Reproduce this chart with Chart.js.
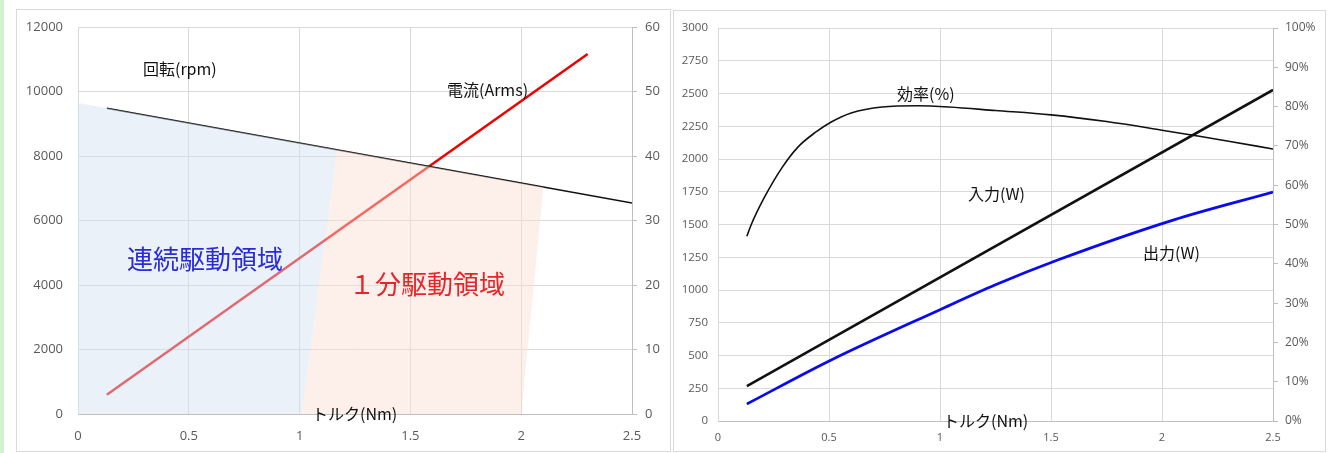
<!DOCTYPE html>
<html>
<head>
<meta charset="utf-8">
<script src="https://cdn.jsdelivr.net/npm/chart.js@4.4.0/dist/chart.umd.min.js"></script>
<style>
    body { margin: 0; background: #fff; width: 1330px; height: 453px; position: relative; overflow: hidden; font-family: 'Noto Sans CJK JP', sans-serif; }
    .stripe { position: absolute; left: 0; top: 0; width: 4px; height: 453px; background: #d3f3d0; }
    .frame { position: absolute; border: 1px solid #d9d9d9; box-sizing: border-box; }
    canvas { position: absolute; }
    .lbl { position: absolute; white-space: nowrap; transform: translateY(-50%); font-size: 16px; color: #111; line-height: 1; }
    .big { font-size: 26px; }
</style>
</head>
<body>
<div class="stripe"></div>
<div class="frame" style="left:16px;top:9px;width:655px;height:443px"></div>
<div class="frame" style="left:673px;top:10px;width:653px;height:442px"></div>
<canvas id="motorChart" width="652" height="441" style="left:17px;top:10px"></canvas>
<canvas id="powerChart" width="651" height="440" style="left:674px;top:11px"></canvas>

<div class="lbl" style="left:143px;top:68px">回転(rpm)</div>
<div class="lbl" style="left:447px;top:89px">電流(Arms)</div>
<div class="lbl big" style="left:127px;top:258px;color:#2a2ad8">連続駆動領域</div>
<div class="lbl big" style="left:349px;top:283px;color:#e8242a">１分駆動領域</div>
<div class="lbl" style="left:312px;top:413px">トルク(Nm)</div>

<div class="lbl" style="left:897px;top:93px">効率(%)</div>
<div class="lbl" style="left:968px;top:193px">入力(W)</div>
<div class="lbl" style="left:1143px;top:252px">出力(W)</div>
<div class="lbl" style="left:943px;top:420px">トルク(Nm)</div>

<script>
'use strict';

/* left chart: speed / current vs torque */
const rpmTorque = [0.13, 2.5];
const rpmValues = [9480, 6540];
const currentTorque = [0.13, 2.3];
const currentValues = [3.0, 55.8];
// operating regions (outline points, rpm axis)
const contTorque = [0, 1.17, 1.01, 0];
const contRpm = [9640, 8190, 0, 0];
const oneMinTorque = [1.01, 1.17, 2.1, 2.0];
const oneMinRpm = [0, 8190, 7030, 0];

/* right chart: efficiency / input / output vs torque */
const effTorque = [0.13, 0.15, 0.21, 0.29, 0.36, 0.44, 0.51, 0.6, 0.74, 0.9, 1.04, 1.25, 1.5, 1.75, 2.0, 2.13, 2.3, 2.5];
const effValues = [47, 50, 57, 64.6, 69.7, 73.5, 76.1, 78.4, 79.9, 80.2, 79.9, 79.0, 77.9, 76.2, 74.0, 72.8, 71.2, 69.2];
const inputTorque = [0.13, 2.5];
const inputValues = [267, 2527];
const outputTorque = [0.13, 0.51, 1.0, 1.25, 1.53, 2.05, 2.5];
const outputValues = [130, 466, 850, 1040, 1229, 1534, 1748];

const pts = (xs, ys) => xs.map((x, i) => ({ x: x, y: ys[i] }));

Chart.defaults.font.family = "'Open Sans', sans-serif";
Chart.defaults.color = '#595959';
Chart.defaults.animation = false;

const GRID = '#d9d9d9';
const AXIS = '#bfbfbf';

// fixed axis box sizes, no extra label padding
const fixWidth = (w) => (s) => { s.width = w; s.paddingTop = 0; s.paddingBottom = 0; };
const fixHeight = (h) => (s) => { s.height = h; };

function lineSet(data, color, width, yAxisID, extra) {
    return Object.assign({
        data: data,
        borderColor: color,
        borderWidth: width,
        pointRadius: 0,
        fill: false,
        yAxisID: yAxisID,
        order: 1,
    }, extra || {});
}

function regionSet(data, color) {
    return {
        data: data,
        backgroundColor: color,
        borderWidth: 0,
        pointRadius: 0,
        fill: 'shape',
        yAxisID: 'y',
        order: 0,
    };
}

new Chart(document.getElementById('motorChart'), {
    type: 'line',
    data: {
        datasets: [
            lineSet(pts(rpmTorque, rpmValues), '#111', 1.6, 'y'),
            lineSet(pts(currentTorque, currentValues), '#ee0000', 2.5, 'y2'),
            regionSet(pts(contTorque, contRpm), 'rgba(210,225,243,0.47)'),
            regionSet(pts(oneMinTorque, oneMinRpm), 'rgba(251,223,211,0.47)'),
        ],
    },
    options: {
        responsive: false,
        devicePixelRatio: 1,
        layout: { padding: { top: 17, left: 0, right: 0, bottom: 0 } },
        plugins: { legend: { display: false }, tooltip: { enabled: false } },
        scales: {
            x: {
                type: 'linear', min: 0, max: 2.5,
                ticks: { stepSize: 0.5, padding: 14, font: { size: 13 }, callback: (v) => String(v) },
                grid: { color: GRID, drawTicks: false },
                border: { color: AXIS },
                afterFit: fixHeight(37),
            },
            y: {
                min: 0, max: 12000,
                ticks: { stepSize: 2000, padding: 15, font: { size: 13 }, callback: (v) => String(v) },
                grid: { color: GRID, drawTicks: false },
                border: { color: GRID },
                afterFit: fixWidth(61),
            },
            y2: {
                position: 'right', min: 0, max: 60,
                ticks: { stepSize: 10, padding: 8, font: { size: 13 } },
                grid: { drawOnChartArea: false, color: AXIS, tickLength: 5 },
                border: { color: AXIS },
                afterFit: fixWidth(37),
            },
        },
    },
});

new Chart(document.getElementById('powerChart'), {
    type: 'line',
    data: {
        datasets: [
            lineSet(pts(effTorque, effValues), '#111', 1.6, 'y2', { cubicInterpolationMode: 'monotone' }),
            lineSet(pts(inputTorque, inputValues), '#111', 2.6, 'y'),
            lineSet(pts(outputTorque, outputValues), '#0a0aee', 2.8, 'y', { cubicInterpolationMode: 'monotone' }),
        ],
    },
    options: {
        responsive: false,
        devicePixelRatio: 1,
        layout: { padding: { top: 17, left: 0, right: 0, bottom: 0 } },
        plugins: { legend: { display: false }, tooltip: { enabled: false } },
        scales: {
            x: {
                type: 'linear', min: 0, max: 2.5,
                ticks: { stepSize: 0.5, padding: 10, font: { size: 11 }, callback: (v) => String(v) },
                grid: { color: GRID, drawTicks: false },
                border: { color: AXIS },
                afterFit: fixHeight(30),
            },
            y: {
                min: 0, max: 3000,
                ticks: { stepSize: 250, padding: 10, font: { size: 11.5 }, callback: (v) => String(v) },
                grid: { color: GRID, drawTicks: false },
                border: { color: GRID },
                afterFit: fixWidth(44),
            },
            y2: {
                position: 'right', min: 0, max: 100,
                ticks: { stepSize: 10, padding: 7, font: { size: 12 }, callback: (v) => v + '%' },
                grid: { drawOnChartArea: false, color: AXIS, tickLength: 5 },
                border: { color: AXIS },
                afterFit: fixWidth(52),
            },
        },
    },
});
</script>
</body>
</html>
